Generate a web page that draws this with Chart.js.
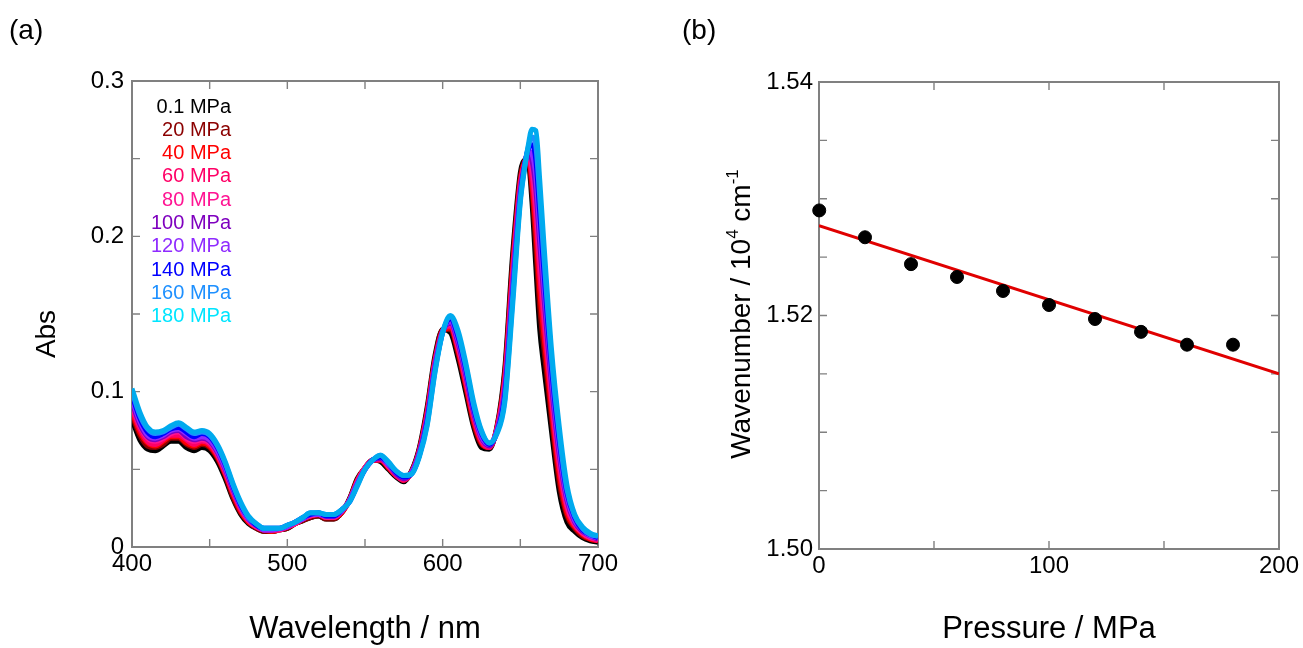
<!DOCTYPE html>
<html>
<head>
<meta charset="utf-8">
<script src="https://cdn.jsdelivr.net/npm/chart.js@4.4.1/dist/chart.umd.min.js"></script>
<style>
  html, body { margin: 0; padding: 0; background: #fff; }
  #wrap { position: relative; width: 1303px; height: 648px; }
  canvas { position: absolute; top: 0; }
  #chartA { left: 0; }
  #chartB { left: 651px; }
</style>
</head>
<body>
<div id="wrap">
  <canvas id="chartA" width="651" height="648"></canvas>
  <canvas id="chartB" width="652" height="648"></canvas>
</div>
<script>
// Panel (a): absorption spectra, wavelength in nm (denser around the main band)
var wavelengths = [
  400,405,410,415,420,425,430,435,440,445,
  450,455,460,465,470,475,480,485,490,495,
  500,505,510,515,520,525,530,535,540,545,
  550,555,560,565,570,575,580,585,590,595,
  600,605,610,615,620,625,630,635,640,645,
  650,652.5,655,657.5,660,662.5,665,670,675,680,
  685,690,695,700
];

var absP01 = [
  0.082,0.069,0.063,0.062,0.065,0.068,0.068,0.064,0.062,0.064,
  0.062,0.055,0.044,0.031,0.021,0.015,0.012,0.010,0.010,0.011,
  0.012,0.015,0.017,0.019,0.020,0.018,0.018,0.022,0.031,0.044,
  0.051,0.056,0.055,0.050,0.045,0.042,0.049,0.064,0.090,0.123,
  0.140,0.138,0.121,0.099,0.077,0.064,0.063,0.078,0.115,0.188,
  0.241,0.249,0.248,0.222,0.180,0.140,0.117,0.075,0.036,0.016,
  0.010,0.006,0.004,0.003
];
var absP20 = [
  0.085,0.072,0.065,0.064,0.066,0.070,0.070,0.066,0.064,0.066,
  0.064,0.057,0.046,0.032,0.022,0.016,0.012,0.010,0.010,0.011,
  0.012,0.015,0.017,0.019,0.020,0.018,0.018,0.022,0.031,0.043,
  0.051,0.056,0.056,0.051,0.046,0.043,0.049,0.063,0.088,0.121,
  0.140,0.140,0.124,0.102,0.079,0.066,0.064,0.077,0.112,0.183,
  0.238,0.248,0.250,0.229,0.193,0.154,0.129,0.083,0.042,0.020,
  0.012,0.007,0.005,0.004
];
var absP40 = [
  0.087,0.074,0.067,0.065,0.068,0.071,0.071,0.067,0.065,0.067,
  0.065,0.058,0.047,0.034,0.023,0.016,0.013,0.011,0.010,0.011,
  0.013,0.015,0.018,0.020,0.021,0.019,0.019,0.022,0.030,0.043,
  0.051,0.056,0.056,0.051,0.046,0.043,0.048,0.062,0.087,0.120,
  0.139,0.141,0.126,0.104,0.081,0.067,0.064,0.077,0.109,0.179,
  0.236,0.247,0.251,0.234,0.203,0.165,0.138,0.089,0.047,0.022,
  0.013,0.008,0.005,0.004
];
var absP60 = [
  0.089,0.076,0.068,0.066,0.069,0.072,0.072,0.069,0.066,0.068,
  0.066,0.059,0.048,0.035,0.024,0.017,0.013,0.011,0.011,0.011,
  0.013,0.015,0.018,0.020,0.021,0.019,0.019,0.023,0.030,0.042,
  0.051,0.056,0.056,0.052,0.046,0.043,0.048,0.062,0.086,0.119,
  0.139,0.142,0.128,0.106,0.083,0.068,0.064,0.076,0.107,0.176,
  0.234,0.246,0.252,0.239,0.213,0.176,0.147,0.095,0.052,0.025,
  0.014,0.009,0.006,0.004
];
var absP80 = [
  0.091,0.078,0.070,0.068,0.070,0.073,0.074,0.070,0.068,0.069,
  0.067,0.060,0.049,0.036,0.025,0.017,0.013,0.011,0.011,0.011,
  0.013,0.015,0.018,0.020,0.021,0.019,0.019,0.023,0.030,0.042,
  0.051,0.056,0.057,0.052,0.047,0.044,0.048,0.061,0.084,0.118,
  0.139,0.143,0.129,0.108,0.085,0.069,0.065,0.076,0.105,0.172,
  0.232,0.246,0.253,0.244,0.221,0.185,0.155,0.100,0.056,0.027,
  0.015,0.009,0.006,0.005
];
var absP100 = [
  0.093,0.079,0.071,0.069,0.071,0.074,0.075,0.071,0.069,0.070,
  0.068,0.061,0.050,0.037,0.026,0.018,0.014,0.011,0.011,0.012,
  0.013,0.016,0.018,0.021,0.021,0.020,0.020,0.023,0.030,0.041,
  0.050,0.056,0.057,0.053,0.047,0.044,0.048,0.061,0.083,0.117,
  0.139,0.144,0.131,0.110,0.086,0.070,0.065,0.075,0.102,0.169,
  0.230,0.245,0.254,0.249,0.230,0.195,0.163,0.105,0.060,0.030,
  0.016,0.010,0.007,0.005
];
var absP120 = [
  0.095,0.081,0.072,0.070,0.072,0.075,0.076,0.073,0.070,0.071,
  0.069,0.062,0.051,0.038,0.026,0.018,0.014,0.011,0.011,0.012,
  0.013,0.016,0.018,0.021,0.021,0.020,0.020,0.023,0.030,0.041,
  0.050,0.056,0.058,0.053,0.048,0.045,0.048,0.060,0.082,0.116,
  0.139,0.145,0.133,0.112,0.088,0.071,0.066,0.075,0.100,0.166,
  0.228,0.244,0.255,0.253,0.239,0.204,0.171,0.111,0.064,0.032,
  0.017,0.011,0.007,0.006
];
var absP140 = [
  0.098,0.083,0.074,0.071,0.073,0.076,0.077,0.074,0.071,0.073,
  0.071,0.064,0.053,0.039,0.027,0.019,0.014,0.012,0.012,0.012,
  0.014,0.016,0.019,0.021,0.022,0.020,0.020,0.024,0.029,0.040,
  0.050,0.056,0.058,0.054,0.048,0.045,0.047,0.059,0.081,0.114,
  0.138,0.147,0.135,0.114,0.089,0.073,0.066,0.074,0.098,0.162,
  0.226,0.244,0.256,0.259,0.249,0.215,0.180,0.116,0.069,0.035,
  0.019,0.011,0.008,0.006
];
var absP160 = [
  0.100,0.085,0.076,0.073,0.074,0.077,0.079,0.076,0.073,0.074,
  0.072,0.065,0.054,0.040,0.028,0.019,0.015,0.012,0.012,0.012,
  0.014,0.016,0.019,0.022,0.022,0.021,0.021,0.024,0.029,0.040,
  0.050,0.056,0.059,0.054,0.049,0.046,0.047,0.059,0.079,0.113,
  0.138,0.148,0.137,0.116,0.091,0.074,0.067,0.074,0.095,0.159,
  0.224,0.243,0.257,0.264,0.258,0.225,0.189,0.122,0.073,0.037,
  0.020,0.012,0.008,0.007
];
var absP180 = [
  0.102,0.087,0.077,0.074,0.075,0.078,0.080,0.077,0.074,0.075,
  0.073,0.066,0.055,0.041,0.029,0.020,0.015,0.012,0.012,0.012,
  0.014,0.016,0.019,0.022,0.022,0.021,0.021,0.024,0.029,0.039,
  0.050,0.056,0.059,0.055,0.049,0.046,0.047,0.058,0.078,0.112,
  0.138,0.149,0.139,0.118,0.093,0.075,0.067,0.073,0.093,0.155,
  0.222,0.242,0.258,0.269,0.268,0.236,0.198,0.128,0.078,0.040,
  0.021,0.013,0.009,0.007
];

var pressureLabels = ['0.1 MPa','20 MPa','40 MPa','60 MPa','80 MPa','100 MPa','120 MPa','140 MPa','160 MPa','180 MPa'];
var spectra = [absP01, absP20, absP40, absP60, absP80, absP100, absP120, absP140, absP160, absP180];

// Panel (b): peak position vs pressure
var pressures = [0.1, 20, 40, 60, 80, 100, 120, 140, 160, 180];
var wavenumbers = [1.5290, 1.5267, 1.5244, 1.5233, 1.5221, 1.5209, 1.5197, 1.5186, 1.5175, 1.5175];
var fitPressure = [0, 200];
var fitWavenumber = [1.5277, 1.5150];

// colores
var textColors = ['#000000','#8b0000','#ff0000','#ff0066','#ff1493','#7f00bf','#8f2bff','#0000ff','#1e90ff','#00e5ff'];
var lineColors = ['#000000','#8b0000','#ff0000','#ff0066','#ff1493','#7f00bf','#8f2bff','#0000ff','#1e90ff','#00aaee'];

var FONT = "'Liberation Sans', Arial, sans-serif";

// marco gris y marcas hacia dentro en los cuatro lados
var frameTicks = {
  id: 'frameTicks',
  beforeDatasetsDraw: function(chart) {
    var ctx = chart.ctx, a = chart.chartArea;
    var sx = chart.scales.x, sy = chart.scales.y;
    var len = 8;
    ctx.save();
    ctx.strokeStyle = '#808080';
    ctx.lineWidth = 1.4;
    sx.ticks.forEach(function(t) {
      var px = sx.getPixelForValue(t.value);
      ctx.beginPath();
      ctx.moveTo(px, a.bottom); ctx.lineTo(px, a.bottom - len);
      ctx.moveTo(px, a.top); ctx.lineTo(px, a.top + len);
      ctx.stroke();
    });
    sy.ticks.forEach(function(t) {
      var py = sy.getPixelForValue(t.value);
      ctx.beginPath();
      ctx.moveTo(a.left, py); ctx.lineTo(a.left + len, py);
      ctx.moveTo(a.right, py); ctx.lineTo(a.right - len, py);
      ctx.stroke();
    });
    ctx.lineWidth = 2;
    ctx.strokeRect(a.left, a.top, a.right - a.left, a.bottom - a.top);
    ctx.restore();
  }
};

// textos libres del panel (a)
var notesA = {
  id: 'notesA',
  afterDraw: function(chart) {
    var ctx = chart.ctx;
    ctx.save();
    ctx.textBaseline = 'middle';
    ctx.fillStyle = '#000';
    ctx.font = '28px ' + FONT;
    ctx.fillText('(a)', 9, 31);

    ctx.font = '20px ' + FONT;
    ctx.textAlign = 'right';
    pressureLabels.forEach(function(lbl, i) {
      ctx.fillStyle = textColors[i];
      ctx.fillText(lbl, 231, 107 + i * 23.3);
    });

    ctx.fillStyle = '#000';
    ctx.font = '28px ' + FONT;
    ctx.textAlign = 'center';
    ctx.translate(47, 334);
    ctx.rotate(-Math.PI / 2);
    ctx.fillText('Abs', 0, 0);
    ctx.restore();
  }
};

// textos libres del panel (b), con superíndices
var notesB = {
  id: 'notesB',
  afterDraw: function(chart) {
    var ctx = chart.ctx;
    ctx.save();
    ctx.textBaseline = 'middle';
    ctx.fillStyle = '#000';
    ctx.font = '28px ' + FONT;
    ctx.fillText('(b)', 31, 31);

    var parts = [
      { t: 'Wavenumber / 10', sup: false },
      { t: '4', sup: true },
      { t: ' cm', sup: false },
      { t: '-1', sup: true }
    ];
    var mainFont = '28px ' + FONT, supFont = '17px ' + FONT;
    var total = 0;
    parts.forEach(function(p) {
      ctx.font = p.sup ? supFont : mainFont;
      p.w = ctx.measureText(p.t).width;
      total += p.w;
    });
    ctx.translate(89, 314);
    ctx.rotate(-Math.PI / 2);
    ctx.textBaseline = 'alphabetic';
    var x = -total / 2;
    parts.forEach(function(p) {
      ctx.font = p.sup ? supFont : mainFont;
      ctx.fillText(p.t, x, p.sup ? -2 : 10);
      x += p.w;
    });
    ctx.restore();
  }
};

var tickFont = { family: FONT, size: 24 };
var titleFont = { family: FONT, size: 31 };

// Gráfico (a)
var datasetsA = spectra.map(function(serie, i) {
  return {
    label: pressureLabels[i],
    data: wavelengths.map(function(w, j) { return { x: w, y: serie[j] }; }),
    borderColor: lineColors[i],
    borderWidth: 5,
    pointRadius: 0,
    fill: false,
    cubicInterpolationMode: 'monotone',
    order: spectra.length - i
  };
});

new Chart(document.getElementById('chartA'), {
  type: 'line',
  data: { datasets: datasetsA },
  options: {
    responsive: false,
    animation: false,
    layout: { padding: { top: 81, right: 53, left: 0, bottom: 0 } },
    plugins: { legend: { display: false }, tooltip: { enabled: false } },
    scales: {
      x: {
        type: 'linear', min: 400, max: 700,
        grid: { display: false, drawTicks: false },
        border: { display: false },
        ticks: {
          stepSize: 50, autoSkip: false, maxRotation: 0, padding: 3,
          color: '#000', font: tickFont,
          callback: function(v) { return v % 100 === 0 ? String(v) : ''; }
        },
        title: { display: true, text: 'Wavelength / nm', color: '#000', font: titleFont, padding: 0 },
        afterFit: function(s) { s.height = 101; }
      },
      y: {
        type: 'linear', min: 0, max: 0.3,
        grid: { display: false, drawTicks: false },
        border: { display: false },
        ticks: {
          stepSize: 0.05, autoSkip: false, padding: 8,
          color: '#000', font: tickFont,
          callback: function(v) {
            var k = Math.round(v * 100);
            if (k % 10 !== 0) return '';
            return k === 0 ? '0' : v.toFixed(1);
          }
        },
        afterFit: function(s) { s.width = 132; }
      }
    }
  },
  plugins: [frameTicks, notesA]
});

// Gráfico (b)
new Chart(document.getElementById('chartB'), {
  type: 'scatter',
  data: {
    datasets: [
      {
        label: 'data',
        data: pressures.map(function(p, i) { return { x: p, y: wavenumbers[i] }; }),
        backgroundColor: '#000',
        borderColor: '#000',
        pointRadius: 6.5,
        showLine: false,
        clip: false,
        order: 0
      },
      {
        label: 'fit',
        data: fitPressure.map(function(p, i) { return { x: p, y: fitWavenumber[i] }; }),
        borderColor: '#e00000',
        borderWidth: 3,
        pointRadius: 0,
        showLine: true,
        order: 1
      }
    ]
  },
  options: {
    responsive: false,
    animation: false,
    layout: { padding: { top: 82, right: 24, left: 0, bottom: 0 } },
    plugins: { legend: { display: false }, tooltip: { enabled: false } },
    scales: {
      x: {
        type: 'linear', min: 0, max: 200,
        grid: { display: false, drawTicks: false },
        border: { display: false },
        ticks: {
          stepSize: 50, autoSkip: false, maxRotation: 0, padding: 3,
          color: '#000', font: tickFont,
          callback: function(v) { return v % 100 === 0 ? String(v) : ''; }
        },
        title: { display: true, text: 'Pressure / MPa', color: '#000', font: titleFont, padding: 0 },
        afterFit: function(s) { s.height = 99; }
      },
      y: {
        type: 'linear', min: 1.50, max: 1.54,
        grid: { display: false, drawTicks: false },
        border: { display: false },
        ticks: {
          stepSize: 0.005, autoSkip: false, padding: 6,
          color: '#000', font: tickFont,
          callback: function(v) {
            var k = Math.round(v * 1000);
            return k % 20 === 0 ? v.toFixed(2) : '';
          }
        },
        afterFit: function(s) { s.width = 168; }
      }
    }
  },
  plugins: [frameTicks, notesB]
});
</script>
</body>
</html>
